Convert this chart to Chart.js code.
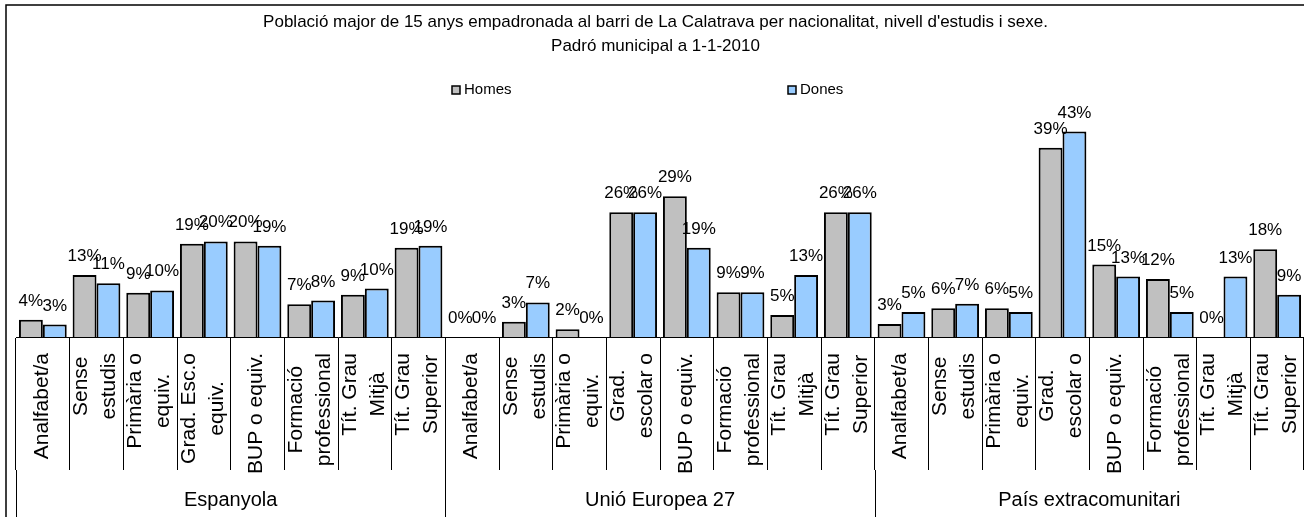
<!DOCTYPE html>
<html>
<head>
<meta charset="utf-8">
<script src="https://cdn.jsdelivr.net/npm/chart.js@4/dist/chart.umd.min.js"></script>
<style>
  html, body { margin: 0; padding: 0; background: #fff; }
  #wrap { width: 1304px; height: 517px; position: relative; }
</style>
</head>
<body>
<div id="wrap"><canvas id="c" width="1304" height="517"></canvas></div>
<script>
// ---- Data ----
const groupNames = ['Espanyola', 'Unió Europea 27', 'País extracomunitari'];
const levelsEspanyola = ['Analfabet/a', ['Sense', 'estudis'], ['Primària o', 'equiv.'], ['Grad. Esc.o', 'equiv.'], 'BUP o equiv.', ['Formació', 'professional'], ['Tít. Grau', 'Mitjà'], ['Tít. Grau', 'Superior']];
const levelsUE = ['Analfabet/a', ['Sense', 'estudis'], ['Primària o', 'equiv.'], ['Grad.', 'escolar o'], 'BUP o equiv.', ['Formació', 'professional'], ['Tít. Grau', 'Mitjà'], ['Tít. Grau', 'Superior']];
const levelsExtra = ['Analfabet/a', ['Sense', 'estudis'], ['Primària o', 'equiv.'], ['Grad.', 'escolar o'], 'BUP o equiv.', ['Formació', 'professional'], ['Tít. Grau', 'Mitjà'], ['Tít. Grau', 'Superior']];

const homesEspanyola = [3.6, 12.9, 9.2, 19.4, 19.9, 6.8, 8.8, 18.6];
const donesEspanyola = [2.6, 11.2, 9.7, 19.9, 19.0, 7.6, 10.1, 19.0];
const homesUE = [0, 3.2, 1.6, 26.0, 29.3, 9.3, 4.6, 26.0];
const donesUE = [0, 7.2, 0, 26.0, 18.6, 9.3, 12.9, 26.0];
const homesExtra = [2.7, 6.0, 6.0, 39.4, 15.1, 12.1, 0, 18.3];
const donesExtra = [5.2, 6.9, 5.2, 42.8, 12.6, 5.2, 12.6, 8.8];

const seriesNames = ['Homes', 'Dones'];
const titleLines = ["Població major de 15 anys empadronada al barri de La Calatrava per nacionalitat, nivell d'estudis i sexe.", 'Padró municipal a 1-1-2010'];

// ---- Derived ----
const groupLevels = [levelsEspanyola, levelsUE, levelsExtra];
const tickLabels = [].concat(levelsEspanyola, levelsUE, levelsExtra);
const homes = [].concat(homesEspanyola, homesUE, homesExtra);
const dones = [].concat(donesEspanyola, donesUE, donesExtra);

const FONT = '"Liberation Sans", Arial, sans-serif';
const COLORS = ['#C0C0C0', '#99CCFF'];

const decorPlugin = {
  id: 'decor',
  beforeDraw(chart) {
    const ctx = chart.ctx;
    ctx.save();
    ctx.fillStyle = '#fff';
    ctx.fillRect(0, 0, chart.width, chart.height);
    ctx.restore();
  },
  afterDraw(chart) {
    const ctx = chart.ctx;
    const xs = chart.scales.x;
    ctx.save();
    // outer frame
    ctx.strokeStyle = '#000';
    ctx.lineWidth = 1.5;
    ctx.strokeRect(6, 5, chart.width + 50, chart.height + 50);

    // value labels
    ctx.fillStyle = '#000';
    ctx.font = '17px ' + FONT;
    ctx.textAlign = 'center';
    ctx.textBaseline = 'alphabetic';
    chart.data.datasets.forEach((ds, di) => {
      const meta = chart.getDatasetMeta(di);
      meta.data.forEach((bar, i) => {
        const v = ds.data[i];
        ctx.fillText(Math.round(v) + '%', bar.x, bar.y - 14);
      });
    });

    // category labels (rotated)
    ctx.font = '21px ' + FONT;
    tickLabels.forEach((lab, i) => {
      const lines = Array.isArray(lab) ? lab : [lab];
      const cx = xs.getPixelForValue(i);
      const L = Math.max(...lines.map(l => ctx.measureText(l).width));
      const cy = xs.top + 16 + L / 2;
      lines.forEach((ln, j) => {
        const off = (j - (lines.length - 1) / 2) * 28 - 1;
        ctx.save();
        ctx.translate(cx + off, cy);
        ctx.rotate(-Math.PI / 2);
        ctx.textAlign = 'center';
        ctx.textBaseline = 'middle';
        ctx.fillText(ln, 0, 0);
        ctx.restore();
      });
    });

    // group separators extension + group labels
    const tickEnd = xs.top + xs.options.grid.tickLength;
    ctx.strokeStyle = '#000';
    ctx.lineWidth = 1;
    let start = 0;
    ctx.font = '20px ' + FONT;
    ctx.textAlign = 'center';
    ctx.textBaseline = 'middle';
    groupNames.forEach((g, gi) => {
      const n = groupLevels[gi].length;
      const left = xs.getPixelForValue(start - 0.5);
      const right = xs.getPixelForValue(start + n - 0.5);
      [left, right].forEach(px => {
        const x = Math.round(px) + 0.5;
        ctx.beginPath();
        ctx.moveTo(x, tickEnd);
        ctx.lineTo(x, chart.height);
        ctx.stroke();
      });
      ctx.fillText(g, (left + right) / 2, 500);
      start += n;
    });

    // legend
    ctx.font = '15px ' + FONT;
    ctx.textAlign = 'left';
    ctx.textBaseline = 'middle';
    const legendX = [452, 788];
    seriesNames.forEach((s, si) => {
      ctx.fillStyle = COLORS[si];
      ctx.fillRect(legendX[si], 86, 8, 8);
      ctx.strokeStyle = '#000';
      ctx.lineWidth = 1.5;
      ctx.strokeRect(legendX[si], 86, 8, 8);
      ctx.fillStyle = '#000';
      ctx.fillText(s, legendX[si] + 12, 90);
    });
    ctx.restore();
  }
};

new Chart(document.getElementById('c'), {
  type: 'bar',
  data: {
    labels: tickLabels,
    datasets: [
      { label: seriesNames[0], data: homes, backgroundColor: COLORS[0], borderColor: '#000', borderWidth: 2, borderSkipped: 'start' },
      { label: seriesNames[1], data: dones, backgroundColor: COLORS[1], borderColor: '#000', borderWidth: 2, borderSkipped: 'start' }
    ]
  },
  options: {
    responsive: false,
    animation: false,
    devicePixelRatio: 1,
    layout: { padding: { left: 0, right: -7, top: 0, bottom: 0 } },
    datasets: { bar: { categoryPercentage: 0.89, barPercentage: 1.0 } },
    plugins: {
      legend: { display: false },
      tooltip: { enabled: false },
      title: {
        display: true,
        text: titleLines,
        color: '#000',
        font: { family: FONT, size: 17, weight: 'normal', lineHeight: 1.41 },
        padding: { top: 10, bottom: 39 }
      }
    },
    scales: {
      x: {
        type: 'category',
        offset: true,
        grid: { display: true, offset: true, drawOnChartArea: false, drawTicks: true, tickLength: 133, color: '#000', lineWidth: 1 },
        border: { display: true, color: '#000', width: 1 },
        ticks: { display: false, autoSkip: false },
        afterFit(scale) { scale.height = 180; }
      },
      y: {
        min: 0,
        max: 50,
        display: true,
        grid: { display: false },
        border: { display: false },
        ticks: { display: false },
        afterFit(scale) { scale.width = 16; }
      }
    }
  },
  plugins: [decorPlugin]
});
</script>
</body>
</html>
